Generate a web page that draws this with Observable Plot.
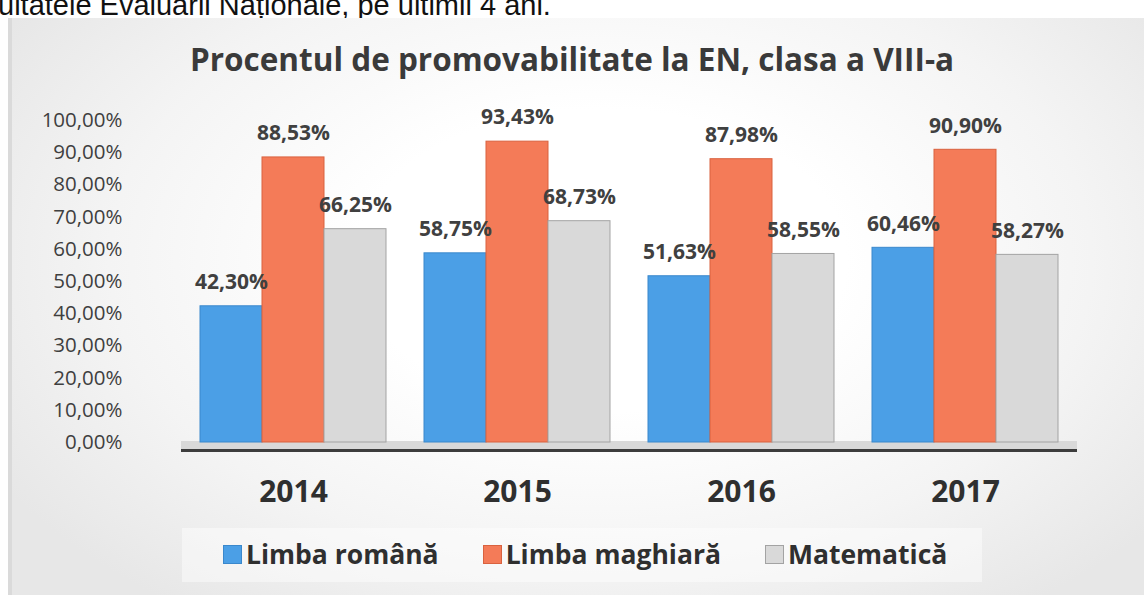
<!DOCTYPE html>
<html>
<head>
<meta charset="utf-8">
<script src="https://cdn.jsdelivr.net/npm/d3@7"></script>
<script src="https://cdn.jsdelivr.net/npm/@observablehq/plot@0.6"></script>
<style>
  html, body { margin: 0; padding: 0; background: #fff; }
  #page { position: relative; width: 1144px; height: 595px; overflow: hidden; background: #fff; font-family: "Open Sans", sans-serif; }
  #top { position: absolute; left: -2px; top: -9px; font: 29px/29px "Liberation Sans", Arial, sans-serif; color: #111; white-space: nowrap; }
  #panel { position: absolute; left: 8px; top: 18px; right: 0; bottom: 0;
    background: radial-gradient(ellipse 62% 75% at 52% 42%, #ffffff 35%, #f4f4f4 70%, #e7e7e7 100%);
    border-left: 4px solid #dadada; }
  #legendbox { position: absolute; left: 182px; top: 528px; width: 800px; height: 54px; background: rgba(255,255,255,0.45); }
  #title { position: absolute; left: 0; width: 1144px; top: 37px; text-align: center; font-weight: 700; font-size: 31.5px; color: #3a3a3a; white-space: nowrap; }
  #chart { position: absolute; left: 0; top: 0; }
  #legend { position: absolute; left: 223px; top: 536px; display: flex; gap: 44px; font-weight: 700; font-size: 26.5px; color: #2f2f2f; white-space: nowrap; }
  #legend .item { display: flex; align-items: center; gap: 4px; }
  #legend .sw { width: 19px; height: 19px; box-sizing: border-box; }
</style>
</head>
<body>
<div id="page">
  <div id="top">ultatele Evaluării Naționale, pe ultimii 4 ani.</div>
  <div id="panel"></div>
  <div id="legendbox"></div>
  <div id="title">Procentul de promovabilitate la EN, clasa a VIII-a</div>
  <div id="chart"></div>
  <div id="legend"></div>
</div>
<script>
const years = ["2014", "2015", "2016", "2017"];
const subjects = ["Limba română", "Limba maghiară", "Matematică"];
const romana = [42.30, 58.75, 51.63, 60.46];
const maghiara = [88.53, 93.43, 87.98, 90.90];
const matematica = [66.25, 68.73, 58.55, 58.27];
const yTicks = [0, 10, 20, 30, 40, 50, 60, 70, 80, 90, 100];

const fills = ["#4b9fe6", "#f47b58", "#d9d9d9"];
const strokes = ["#3a88cc", "#d9623f", "#a3a3a3"];

const series = [romana, maghiara, matematica];
const rows = years.flatMap((yr, i) => subjects.map((s, j) => ({year: yr, subject: s, value: series[j][i]})));
const pct = v => v.toFixed(2).replace(".", ",") + "%";

const H = 530;
const chart = Plot.plot({
  width: 1144,
  height: H,
  marginLeft: 181,
  marginRight: 67,
  marginTop: 120,
  marginBottom: H - 442,
  style: {background: "transparent", fontFamily: "Open Sans, sans-serif", overflow: "visible"},
  fx: {domain: years, paddingInner: 0.17, paddingOuter: 0.085, label: null},
  x: {domain: subjects, padding: 0, axis: null},
  y: {domain: [0, 100], label: null, axis: null},
  color: {domain: subjects, range: fills},
  marks: [
    Plot.ruleY([0], {stroke: "#d9d9d9", strokeWidth: 9, dy: 3, insetLeft: -19, insetRight: -19}),
    Plot.ruleY([0], {stroke: "#3d3d3d", strokeWidth: 3, dy: 8, insetLeft: -19, insetRight: -19}),
    Plot.axisY({ticks: yTicks, tickFormat: pct, tickSize: 0, tickPadding: 78, fontSize: 20.5, fill: "#3f3f3f", label: null}),
    Plot.axisFx({anchor: "bottom", tickSize: 0, tickPadding: 38, fontSize: 30, fontWeight: 700, fill: "#2f2f2f", label: null}),
    Plot.barY(rows, {fx: "year", x: "subject", y: "value", fill: "subject",
      stroke: d => strokes[subjects.indexOf(d.subject)], strokeWidth: 1}),
    Plot.text(rows, {fx: "year", x: "subject", y: "value", text: d => pct(d.value), dy: -24,
      fontSize: 21, fontWeight: 700, fill: "#404040"})
  ]
});
document.getElementById("chart").appendChild(chart);

const legend = document.getElementById("legend");
subjects.forEach((s, j) => {
  const it = document.createElement("div");
  it.className = "item";
  const sw = document.createElement("span");
  sw.className = "sw";
  sw.style.background = fills[j];
  sw.style.border = "1px solid " + strokes[j];
  const tx = document.createElement("span");
  tx.textContent = s;
  it.appendChild(sw); it.appendChild(tx);
  legend.appendChild(it);
});
</script>
</body>
</html>
